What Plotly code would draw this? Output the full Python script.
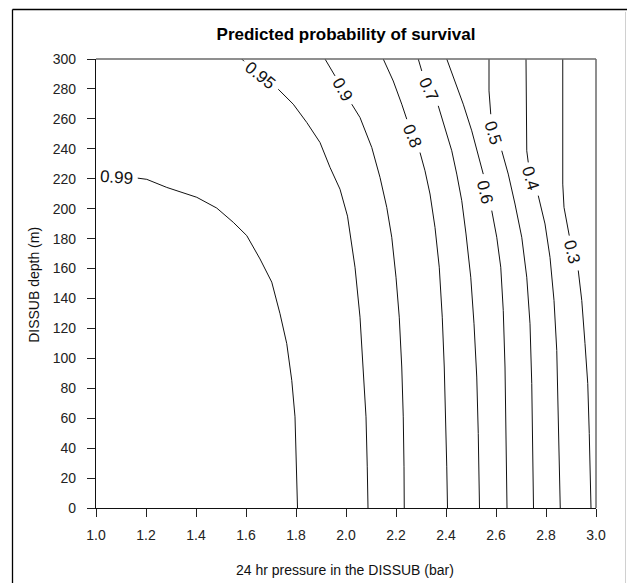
import plotly.graph_objects as go

# ---- data (x = pressure in bar, y = depth in m) ----
levels = ["0.99", "0.95", "0.9", "0.8", "0.7", "0.6", "0.5", "0.4", "0.3"]

c099_x = [1.167, 1.203, 1.283, 1.403, 1.483, 1.549, 1.603, 1.656, 1.703, 1.736, 1.763, 1.783, 1.796, 1.803, 1.805, 1.806]
c099_y = [220.4, 219.6, 214.2, 207.6, 200.4, 190.9, 182.0, 166.4, 150.9, 129.8, 109.8, 85.3, 60.9, 27.5, 5.0, 0.0]

c095_x = [1.583, 1.592, None, 1.729, 1.789, 1.843, 1.896, 1.936, 1.976, 2.006, 2.036, 2.056, 2.069, 2.080, 2.085, 2.088]
c095_y = [300.0, 298.5, None, 279.8, 269.8, 257.6, 244.2, 227.6, 213.0, 195.0, 160.9, 127.5, 94.2, 60.9, 27.5, 0.0]

c090_x = [1.916, 1.956, None, 2.023, 2.056, 2.103, 2.136, 2.163, 2.183, 2.200, 2.213, 2.223, 2.229, 2.232, 2.233]
c090_y = [300.0, 288.7, None, 269.8, 260.9, 240.9, 220.9, 200.9, 180.9, 154.2, 127.5, 94.2, 60.9, 27.5, 0.0]

c080_x = [2.149, 2.189, 2.223, 2.243, None, 2.296, 2.316, 2.336, 2.356, 2.373, 2.385, 2.393, 2.399, 2.403, 2.406]
c080_y = [300.0, 285.3, 269.8, 259.8, None, 237.5, 225.3, 209.8, 187.5, 160.9, 127.5, 94.2, 60.9, 27.5, 0.0]

c070_x = [2.289, 2.303, None, 2.369, 2.396, 2.423, 2.443, 2.463, 2.480, 2.499, 2.512, 2.523, 2.529, 2.534]
c070_y = [300.0, 292.0, None, 268.7, 254.2, 238.7, 223.1, 205.3, 183.1, 154.2, 123.1, 87.5, 49.8, 0.0]

c060_x = [2.403, 2.436, 2.469, 2.503, 2.529, 2.549, None, 2.583, 2.603, 2.619, 2.629, 2.636, 2.640, 2.644]
c060_y = [300.0, 285.3, 269.8, 252.0, 236.5, 223.1, None, 198.7, 180.9, 160.9, 132.0, 94.2, 49.8, 0.0]

c050_x = [2.572, 2.572, 2.579, None, 2.623, 2.649, 2.676, 2.703, 2.723, 2.736, 2.743, 2.747, 2.750]
c050_y = [300.0, 278.7, 263.1, None, 238.7, 223.1, 203.1, 180.9, 154.2, 123.1, 83.1, 38.7, 0.0]

c040_x = [2.720, 2.720, 2.723, 2.729, None, 2.769, 2.796, 2.816, 2.832, 2.843, 2.849, 2.853, 2.857]
c040_y = [300.0, 260.9, 238.7, 230.9, None, 208.7, 189.8, 167.5, 138.7, 105.3, 60.9, 27.5, 0.0]

c030_x = [2.867, 2.867, 2.872, 2.883, 2.893, None, 2.929, 2.943, 2.956, 2.967, 2.973, 2.976, 2.980]
c030_y = [300.0, 216.4, 200.9, 189.8, 182.0, None, 158.7, 138.7, 109.8, 83.1, 49.8, 16.4, 0.0]

# contour-label positions (data coords) and their rotation
label_x = [1.080, 1.657, 1.984, 2.265, 2.331, 2.556, 2.589, 2.739, 2.905]
label_y = [220.9, 289.3, 279.3, 248.2, 279.8, 210.9, 250.4, 220.4, 170.9]
label_angle = [4, 39, 60, 68, 65, 77, 73, 73, 76]

x_ticks = [1.0, 1.2, 1.4, 1.6, 1.8, 2.0, 2.2, 2.4, 2.6, 2.8, 3.0]
y_ticks = [0, 20, 40, 60, 80, 100, 120, 140, 160, 180, 200, 220, 240, 260, 280, 300]

contours_x = [c099_x, c095_x, c090_x, c080_x, c070_x, c060_x, c050_x, c040_x, c030_x]
contours_y = [c099_y, c095_y, c090_y, c080_y, c070_y, c060_y, c050_y, c040_y, c030_y]

FONT = "Arial, 'Liberation Sans', sans-serif"

fig = go.Figure()
for name, xs, ys in zip(levels, contours_x, contours_y):
    fig.add_trace(go.Scatter(x=xs, y=ys, mode="lines", name=name,
                             line=dict(color="#111111", width=1),
                             connectgaps=False, showlegend=False,
                             hoverinfo="skip"))

for txt, lx, ly, ang in zip(levels, label_x, label_y, label_angle):
    fig.add_annotation(x=lx, y=ly, xref="x", yref="y", text=txt, showarrow=False,
                       textangle=ang, font=dict(family=FONT, size=17, color="#111111"),
                       xanchor="center", yanchor="middle")

# axis titles
fig.add_annotation(x=0.497, y=-0.138, xref="paper", yref="paper",
                   text="24 hr pressure in the DISSUB (bar)", showarrow=False,
                   font=dict(family=FONT, size=14, color="#111111"),
                   xanchor="center", yanchor="middle")
fig.add_annotation(x=-0.124, y=0.497, xref="paper", yref="paper",
                   text="DISSUB depth (m)", showarrow=False, textangle=-90,
                   font=dict(family=FONT, size=14, color="#111111"),
                   xanchor="center", yanchor="middle")

# top/right frame of plot (gray) and the outer figure border
fig.add_shape(type="line", xref="paper", yref="paper", x0=0, x1=1, y0=1, y1=1,
              line=dict(color="#6a6a6a", width=1.5))
fig.add_shape(type="line", xref="paper", yref="paper", x0=1, x1=1, y0=0, y1=1,
              line=dict(color="#6a6a6a", width=1.5))
fig.add_shape(type="line", xref="paper", yref="paper", x0=-0.167, x1=1.07, y0=1.1102, y1=1.1102,
              line=dict(color="#000000", width=1.3))
fig.add_shape(type="line", xref="paper", yref="paper", x0=-0.167, x1=-0.167, y0=1.1102, y1=-0.2,
              line=dict(color="#000000", width=1.3))
fig.add_shape(type="line", xref="paper", yref="paper", x0=1.059, x1=1.059, y0=1.105, y1=-0.2,
              line=dict(color="#d0d0d0", width=1))

fig.update_layout(
    width=627, height=583, autosize=False,
    margin=dict(l=96, r=31, t=59, b=75, pad=0),
    paper_bgcolor="white", plot_bgcolor="white",
    title=dict(text="<b>Predicted probability of survival</b>", x=0.5, xanchor="center",
               xref="paper", y=1 - 34 / 583, yref="container", yanchor="middle",
               font=dict(family=FONT, size=17, color="#000000")),
    xaxis=dict(range=[1, 3], tickvals=x_ticks, ticktext=[f"{v:.1f}" for v in x_ticks],
               ticks="outside", ticklen=8, tickwidth=1.3, tickcolor="#222222",
               showline=True, linecolor="#111111", linewidth=1.3,
               showgrid=False, zeroline=False, ticklabelstandoff=6,
               tickfont=dict(family=FONT, size=14, color="#222222")),
    yaxis=dict(range=[0, 300], tickvals=y_ticks,
               ticks="outside", ticklen=8, tickwidth=1.3, tickcolor="#222222",
               showline=True, linecolor="#111111", linewidth=1.3,
               showgrid=False, zeroline=False, ticklabelstandoff=8,
               tickfont=dict(family=FONT, size=14, color="#222222")),
)

fig.write_html("out.html")
